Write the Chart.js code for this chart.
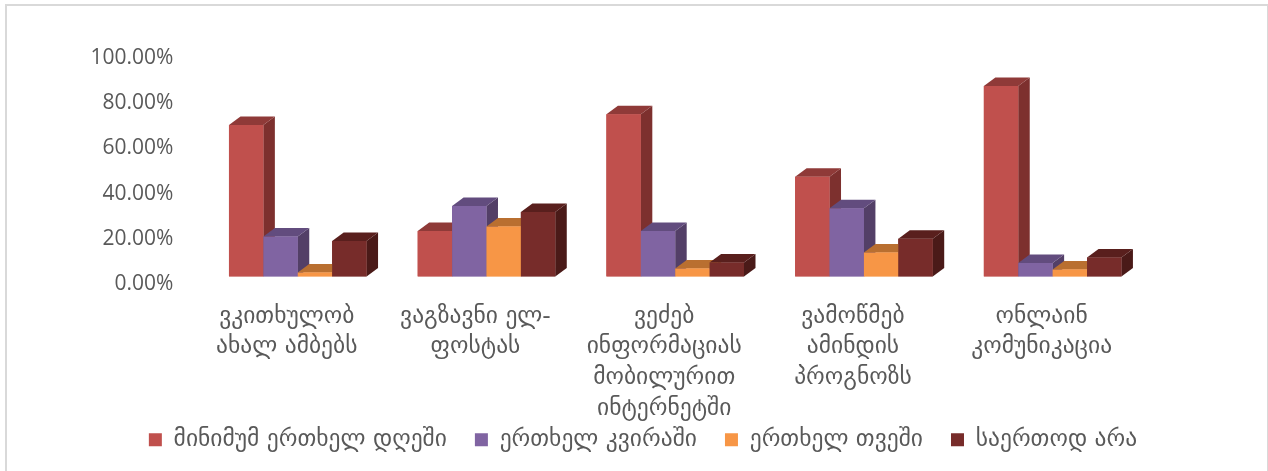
<!DOCTYPE html>
<html>
<head>
<meta charset="utf-8">
<script src="https://cdn.jsdelivr.net/npm/chart.js@4/dist/chart.umd.min.js"></script>
<style>
  html, body { margin: 0; padding: 0; background: #fff; overflow: hidden; }
  #wrap { position: relative; width: 1268px; height: 471px; }
  #frame { position: absolute; left: 5px; top: 4px; width: 1260px; height: 467px;
           border-left: 2px solid #D9D9D9; border-top: 2px solid #D9D9D9; border-right: 1px solid #D9D9D9; }
  canvas { position: absolute; left: 0; top: 0; }
</style>
</head>
<body>
<div id="wrap"><div id="frame"></div><canvas id="c" width="1268" height="471"></canvas></div>
<script>
const categories = [
  ["ვკითხულობ", "ახალ ამბებს"],
  ["ვაგზავნი ელ-", "ფოსტას"],
  ["ვეძებ", "ინფორმაციას", "მობილურით", "ინტერნეტში"],
  ["ვამოწმებ", "ამინდის", "პროგნოზს"],
  ["ონლაინ", "კომუნიკაცია"]
];
const seriesNames = ["მინიმუმ ერთხელ დღეში", "ერთხელ კვირაში", "ერთხელ თვეში", "საერთოდ არა"];
const daily = [66.8, 20.1, 71.5, 44.0, 84.0];
const weekly = [17.6, 31.1, 20.1, 30.1, 5.9];
const monthly = [1.8, 22.0, 3.5, 10.6, 3.1];
const never = [15.6, 28.4, 6.2, 16.6, 8.4];
const frontColors = ["#C0504D", "#8064A2", "#F79646", "#772C2A"];
const sideColors = ["#7D302E", "#533F67", "#A8642C", "#4A1A18"];
const topColors = ["#8F3A38", "#624C7E", "#B96F30", "#591F1D"];

const FONT = "'DejaVu Sans', 'Noto Sans', sans-serif";
const DEPTH_X = 11.5;
const DEPTH_Y = 8.5;

// Chart.js paints datasets last to first, so the boxes are repainted here
// first to last: each front then covers the side of the bar to its left
const depthFaces = {
  id: "depthFaces",
  afterDatasetsDraw(chart) {
    const ctx = chart.ctx;
    ctx.save();
    chart.data.datasets.forEach((ds, i) => {
      chart.getDatasetMeta(i).data.forEach((bar) => {
        const p = bar.getProps(["x", "y", "base", "width"], true);
        const l = p.x - p.width / 2;
        const r = p.x + p.width / 2;
        ctx.fillStyle = sideColors[i];
        ctx.beginPath();
        ctx.moveTo(r, p.y);
        ctx.lineTo(r + DEPTH_X, p.y - DEPTH_Y);
        ctx.lineTo(r + DEPTH_X, p.base - DEPTH_Y);
        ctx.lineTo(r, p.base);
        ctx.closePath();
        ctx.fill();
        ctx.fillStyle = topColors[i];
        ctx.beginPath();
        ctx.moveTo(l, p.y);
        ctx.lineTo(l + DEPTH_X, p.y - DEPTH_Y);
        ctx.lineTo(r + DEPTH_X, p.y - DEPTH_Y);
        ctx.lineTo(r, p.y);
        ctx.closePath();
        ctx.fill();
        bar.draw(ctx);
      });
    });
    ctx.restore();
  }
};

// the legend sits right under the long fourth tick label and is centred
// on the whole picture, not on the plot
const moveLegend = {
  id: "moveLegend",
  afterLayout(chart) {
    const lg = chart.legend;
    const h = lg.bottom - lg.top;
    lg.top = 400;
    lg.bottom = 400 + h;
    lg.left += 69.5;
    lg.right += 69.5;
  }
};

const values = [daily, weekly, monthly, never];

new Chart(document.getElementById("c"), {
  type: "bar",
  data: {
    labels: categories,
    datasets: seriesNames.map((name, i) => ({
      label: name,
      data: values[i],
      backgroundColor: frontColors[i],
      borderWidth: 0,
      barPercentage: 1,
      categoryPercentage: 0.729
    }))
  },
  options: {
    responsive: false,
    animation: false,
    layout: { padding: { top: 49.7, right: 121, bottom: -13, left: 0 } },
    plugins: {
      tooltip: { enabled: false },
      legend: {
        position: "bottom",
        labels: {
          color: "#595959",
          boxWidth: 13,
          boxHeight: 13,
          padding: 28,
          font: { family: FONT, size: 23.5 }
        }
      }
    },
    scales: {
      x: {
        grid: { display: false },
        border: { display: false },
        afterFit(scale) { scale.height = 146; },
        ticks: {
          color: "#595959",
          padding: 17,
          labelOffset: -11,
          maxRotation: 0,
          autoSkip: false,
          font: { family: FONT, size: 23.5, lineHeight: 1.3 }
        }
      },
      y: {
        min: 0,
        max: 100,
        grid: { display: false },
        border: { display: false },
        afterFit(scale) { scale.width = 203.4; },
        ticks: {
          stepSize: 20,
          color: "#595959",
          padding: 22,
          labelOffset: 8,
          font: { family: "'Open Sans', sans-serif", size: 21 },
          callback: (v) => v.toFixed(2) + "%"
        }
      }
    }
  },
  plugins: [depthFaces, moveLegend]
});
</script>
</body>
</html>
